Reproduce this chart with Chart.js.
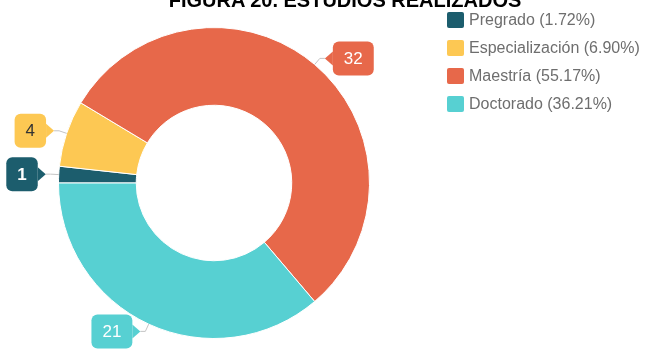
<!DOCTYPE html>
<html>
<head>
<meta charset="utf-8">
<script src="https://cdn.jsdelivr.net/npm/chart.js@4.4.0/dist/chart.umd.min.js"></script>
<style>
    html, body { margin: 0; padding: 0; background: #fff; }
    #wrap { position: relative; width: 648px; height: 351px; overflow: hidden; }
    #title {
        position: absolute; top: -10px; left: 0; width: 690px;
        text-align: center; font: bold 20px "Liberation Sans", Arial, sans-serif;
        line-height: 20px; color: #000;
    }
    #legend { position: absolute; left: 447px; top: 12px; font: 16px "Liberation Sans", Arial, sans-serif; color: #6e6e6e; }
    #legend div { height: 28px; display: flex; align-items: flex-start; }
    #legend span.box { width: 17px; height: 16px; border-radius: 2px; margin-right: 5px; }
    #legend span.txt { line-height: 16px; }
</style>
</head>
<body>
<div id="wrap">
    <canvas id="estudiosChart" width="648" height="351"></canvas>
    <div id="title">FIGURA 20. ESTUDIOS REALIZADOS</div>
    <div id="legend"></div>
</div>
<script>
const categories = ['Pregrado', 'Especialización', 'Maestría', 'Doctorado'];
const values = [1, 4, 32, 21];
const colors = ['#1c5d6d', '#fdc853', '#e7684a', '#57d0d2'];
const labelText = ['#fff', '#333', '#fff', '#fff'];
const labelWeight = ['bold', 'normal', 'normal', 'normal'];

const total = values.reduce((a, b) => a + b, 0);

// leyenda a la derecha con porcentajes
const legend = document.getElementById('legend');
categories.forEach((c, i) => {
    const row = document.createElement('div');
    const pct = (values[i] / total * 100).toFixed(2);
    row.innerHTML = '<span class="box" style="background:' + colors[i] + '"></span>' +
        '<span class="txt">' + c + ' (' + pct + '%)</span>';
    legend.appendChild(row);
});

// etiquetas tipo globo con línea guía hacia cada sector
const calloutPlugin = {
    id: 'callouts',
    afterDatasetsDraw(chart) {
        const ctx = chart.ctx;
        const meta = chart.getDatasetMeta(0);
        ctx.save();
        meta.data.forEach((arc, i) => {
            const p = arc.getProps(['x', 'y', 'startAngle', 'endAngle', 'outerRadius'], true);
            const mid = (p.startAngle + p.endAngle) / 2;
            const cos = Math.cos(mid), sin = Math.sin(mid);
            const x0 = p.x + cos * p.outerRadius, y0 = p.y + sin * p.outerRadius;
            const x1 = p.x + cos * (p.outerRadius + 8), y1 = p.y + sin * (p.outerRadius + 8);
            const right = cos >= 0;
            const x2 = x1 + (right ? 5 : -5);

            ctx.strokeStyle = '#c4c4c4';
            ctx.lineWidth = 1;
            ctx.beginPath();
            ctx.moveTo(x0, y0);
            ctx.lineTo(x1, y1);
            ctx.lineTo(x2, y1);
            ctx.stroke();

            ctx.font = labelWeight[i] + ' 17px "Liberation Sans", Arial, sans-serif';
            const text = String(values[i]);
            const w = ctx.measureText(text).width + 22;
            const h = 34;
            const arrow = 8;
            const left = right ? x2 + arrow : x2 - arrow - w;
            const edge = right ? left : left + w;

            ctx.fillStyle = colors[i];
            ctx.beginPath();
            ctx.roundRect(left, y1 - h / 2, w, h, 6);
            ctx.fill();
            ctx.beginPath();
            ctx.moveTo(x2, y1);
            ctx.lineTo(edge, y1 - 7);
            ctx.lineTo(edge, y1 + 7);
            ctx.closePath();
            ctx.fill();

            ctx.fillStyle = labelText[i];
            ctx.textAlign = 'center';
            ctx.textBaseline = 'middle';
            ctx.fillText(text, left + w / 2, y1 + 1);
        });
        ctx.restore();
    }
};

new Chart(document.getElementById('estudiosChart'), {
    type: 'doughnut',
    data: {
        labels: categories,
        datasets: [{
            data: values,
            backgroundColor: colors,
            borderColor: '#fff',
            borderWidth: 1
        }]
    },
    options: {
        responsive: false,
        animation: false,
        events: [],
        rotation: 270,
        cutout: '50%',
        layout: {
            padding: { left: 58, right: 278, top: 26, bottom: 11 }
        },
        plugins: {
            legend: { display: false },
            tooltip: { enabled: false }
        }
    },
    plugins: [calloutPlugin]
});
</script>
</body>
</html>
